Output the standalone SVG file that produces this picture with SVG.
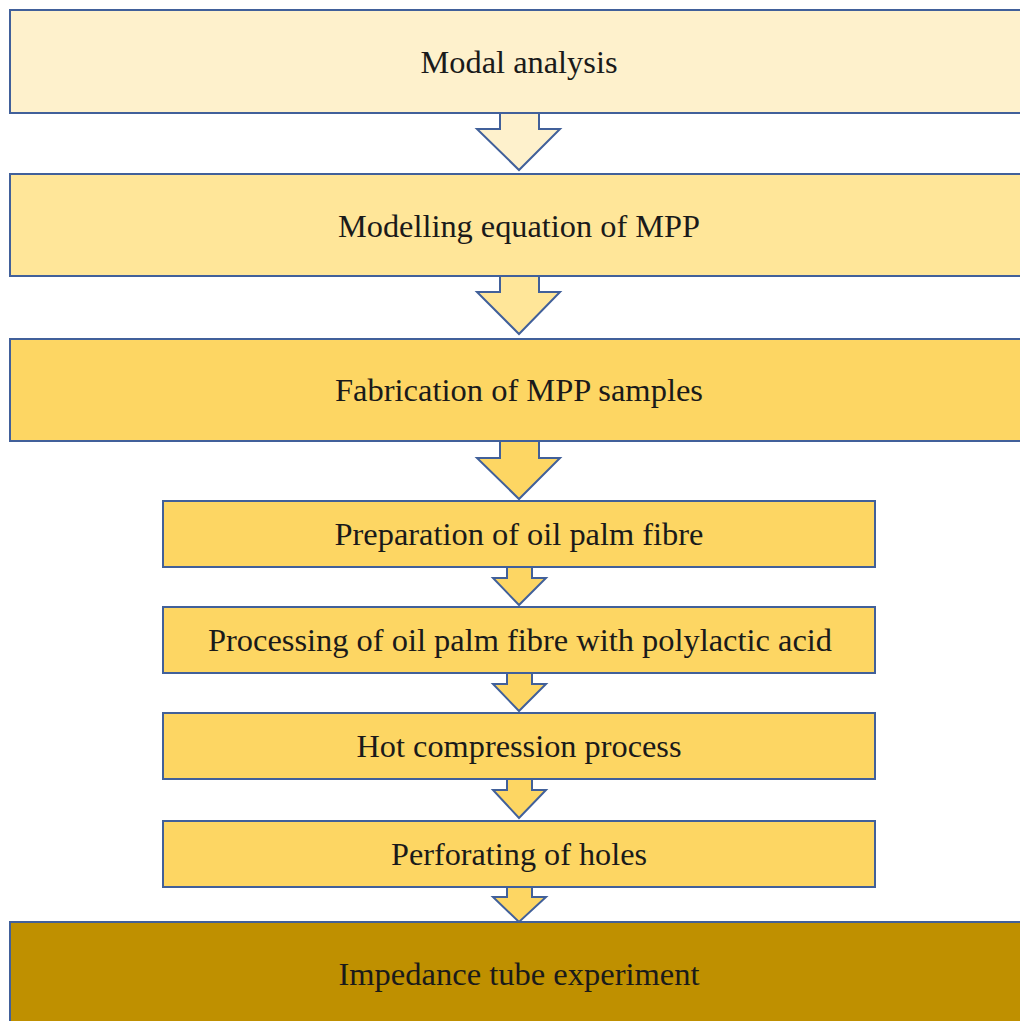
<svg xmlns="http://www.w3.org/2000/svg" width="1020" height="1021" viewBox="0 0 1020 1021">
<style>
.b{stroke:#41609A;stroke-width:2}
.t{font-family:"Liberation Serif","Times New Roman",serif;font-size:32px;fill:#1a1a1a;text-anchor:middle}
</style>
<rect width="1020" height="1021" fill="#ffffff"/>
<g id="connectors">
<path class="b" fill="#FEF1CC" d="M500,113 V129 H477 L519,170 L560,129 H539 V113"/>
<path class="b" fill="#FFE699" d="M500,276 V292 H477 L519,334 L560,292 H539 V276"/>
<path class="b" fill="#FDD663" d="M500,441 V458 H477 L519,499 L560,458 H539 V441"/>
<path class="b" fill="#FDD663" d="M507,567 V578 H493 L519,605 L546,578 H532 V567"/>
<path class="b" fill="#FDD663" d="M507,673 V684 H493 L519,711 L546,684 H532 V673"/>
<path class="b" fill="#FDD663" d="M507,779 V790 H493 L519,818 L546,790 H532 V779"/>
<path class="b" fill="#FDD663" d="M507,887 V897 H493 L519,922 L546,897 H532 V887"/>
</g>
<g id="n1"><rect class="b" x="10" y="10" width="1020" height="103" fill="#FEF1CC"/><text class="t" x="519" y="73" textLength="197" lengthAdjust="spacingAndGlyphs">Modal analysis</text></g>
<g id="n2"><rect class="b" x="10" y="174" width="1020" height="102" fill="#FFE699"/><text class="t" x="519" y="237" textLength="362" lengthAdjust="spacingAndGlyphs">Modelling equation of MPP</text></g>
<g id="n3"><rect class="b" x="10" y="339" width="1020" height="102" fill="#FDD663"/><text class="t" x="519" y="401" textLength="368" lengthAdjust="spacingAndGlyphs">Fabrication of MPP samples</text></g>
<g id="n4"><rect class="b" x="163" y="501" width="712" height="66" fill="#FDD663"/><text class="t" x="519" y="545" textLength="369" lengthAdjust="spacingAndGlyphs">Preparation of oil palm fibre</text></g>
<g id="n5"><rect class="b" x="163" y="607" width="712" height="66" fill="#FDD663"/><text class="t" x="520" y="651" textLength="624" lengthAdjust="spacingAndGlyphs">Processing of oil palm fibre with polylactic acid</text></g>
<g id="n6"><rect class="b" x="163" y="713" width="712" height="66" fill="#FDD663"/><text class="t" x="519" y="757" textLength="325" lengthAdjust="spacingAndGlyphs">Hot compression process</text></g>
<g id="n7"><rect class="b" x="163" y="821" width="712" height="66" fill="#FDD663"/><text class="t" x="519" y="865" textLength="256" lengthAdjust="spacingAndGlyphs">Perforating of holes</text></g>
<g id="n8"><rect class="b" x="10" y="922" width="1020" height="110" fill="#BF9000"/><text class="t" x="519" y="985" textLength="361" lengthAdjust="spacingAndGlyphs">Impedance tube experiment</text></g>
</svg>
